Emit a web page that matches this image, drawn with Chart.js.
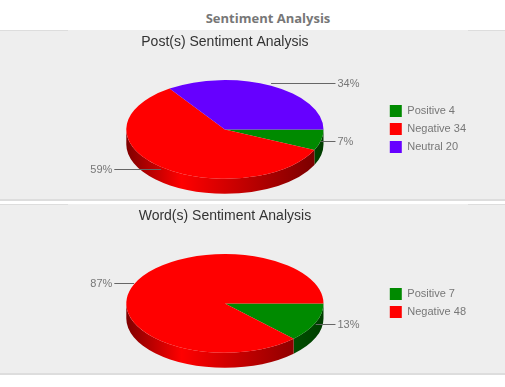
<!DOCTYPE html>
<html><head><meta charset="utf-8">
<script src="https://cdn.jsdelivr.net/npm/chart.js@4"></script>
<style>
html,body{margin:0;padding:0;background:#fff;width:505px;height:387px;overflow:hidden}
#head{position:absolute;left:0;top:10px;width:536px;text-align:center;font:bold 13px "Open Sans",sans-serif;color:#777;line-height:17px}
.panel{position:absolute;left:0;width:505px;background:#eee;box-sizing:border-box;border-bottom:1px solid #ddd}
.cv{position:absolute;left:0;width:505px}
.rule{position:absolute;height:1px;background:#ddd}
</style></head><body>
<div id="head">Sentiment Analysis</div>
<div class="panel" style="top:30px;height:171px;border-bottom-width:2px"></div>
<div class="panel" style="top:204px;height:171px;border-bottom-width:2px"></div>
<div class="rule" style="top:30px;left:0;width:68px"></div>
<div class="rule" style="top:30px;left:468px;width:37px"></div>
<div class="rule" style="top:204px;left:0;width:68px"></div>
<div class="rule" style="top:204px;left:468px;width:37px"></div>
<div class="cv" style="top:30px;height:300px"><canvas id="c1" width="505" height="300"></canvas></div>
<div class="cv" style="top:204px;height:183px;overflow:hidden"><canvas id="c2" width="505" height="300"></canvas></div>
<script>
const postTitle = "Post(s) Sentiment Analysis";
const postCategories = ["Positive", "Negative", "Neutral"];
const postValues = [4, 34, 20];
const postPercents = ["7%", "59%", "34%"];
const postColors = ["#008a00", "#ff0000", "#6600ff"];

const wordTitle = "Word(s) Sentiment Analysis";
const wordCategories = ["Positive", "Negative"];
const wordValues = [7, 48];
const wordPercents = ["13%", "87%"];
const wordColors = ["#008a00", "#ff0000"];

const SQUASH = 0.5, DEPTH = 15, LABEL_Y = 0.53;

function shade(hex, f) {
  const n = parseInt(hex.slice(1), 16);
  return `rgb(${((n>>16)&255)*f|0},${((n>>8)&255)*f|0},${(n&255)*f|0})`;
}

const tilt = {
  id: "tilt",
  beforeDatasetsDraw(chart) {
    const ctx = chart.ctx, arcs = chart.getDatasetMeta(0).data;
    const colors = chart.data.datasets[0].backgroundColor;
    arcs.forEach((a, i) => {
      const s = Math.max(a.startAngle, 0), e = Math.min(a.endAngle, Math.PI);
      if (e <= s) return;
      const R = a.outerRadius, r = R * SQUASH;
      const g = ctx.createLinearGradient(a.x - R, 0, a.x + R, 0);
      g.addColorStop(0, shade(colors[i], 0.5));
      g.addColorStop(0.28, shade(colors[i], 1));
      g.addColorStop(1, shade(colors[i], 0.45));
      ctx.beginPath();
      ctx.ellipse(a.x, a.y, R, r, 0, s, e);
      ctx.ellipse(a.x, a.y + DEPTH, R, r, 0, e, s, true);
      ctx.closePath();
      ctx.fillStyle = g;
      ctx.fill();
    });
    const a = arcs[0];
    ctx.save();
    ctx.translate(a.x, a.y);
    ctx.scale(1, SQUASH);
    ctx.translate(-a.x, -a.y);
  },
  afterDatasetsDraw(chart, args, opts) {
    const ctx = chart.ctx;
    ctx.restore();
    const arcs = chart.getDatasetMeta(0).data;
    ctx.font = '11px "Liberation Sans"';
    ctx.textBaseline = "middle";
    arcs.forEach((a, i) => {
      const m = (a.startAngle + a.endAngle) / 2, R = a.outerRadius;
      const x0 = a.x + R * Math.cos(m);
      const y = Math.round(a.y + R * LABEL_Y * Math.sin(m)) + 0.5;
      const right = Math.cos(m) > 0;
      const x1 = right ? a.x + R + 12 : a.x - R - 12;
      ctx.strokeStyle = "#666";
      ctx.lineWidth = 1;
      ctx.beginPath(); ctx.moveTo(x0, y); ctx.lineTo(x1, y); ctx.stroke();
      ctx.fillStyle = "#777";
      ctx.textAlign = right ? "left" : "right";
      ctx.fillText(opts.percents[i], x1 + (right ? 2 : -2), y);
    });
  }
};

function pie(id, title, cats, vals, pcts, cols) {
  return new Chart(document.getElementById(id), {
    type: "pie",
    plugins: [tilt],
    data: {
      labels: cats.map((c, i) => c + " " + vals[i]),
      datasets: [{ data: vals, backgroundColor: cols, borderWidth: 0 }]
    },
    options: {
      responsive: false,
      animation: false,
      rotation: 90,
      layout: { padding: { left: 66, right: 29, top: 0, bottom: 102 } },
      plugins: {
        tilt: { percents: pcts },
        tooltip: { enabled: false },
        title: {
          display: true, text: title, fullSize: false, color: "#333",
          font: { family: '"Liberation Sans"', size: 14, weight: "normal", lineHeight: 1.2 },
          padding: { top: 4, bottom: -20 }
        },
        legend: {
          position: "right", align: "center",
          labels: {
            boxWidth: 12, boxHeight: 12, padding: 6, color: "#777",
            font: { family: '"Liberation Sans"', size: 11, lineHeight: 1 }
          }
        }
      }
    }
  });
}
pie("c1", postTitle, postCategories, postValues, postPercents, postColors);
pie("c2", wordTitle, wordCategories, wordValues, wordPercents, wordColors);
</script>
</body></html>
